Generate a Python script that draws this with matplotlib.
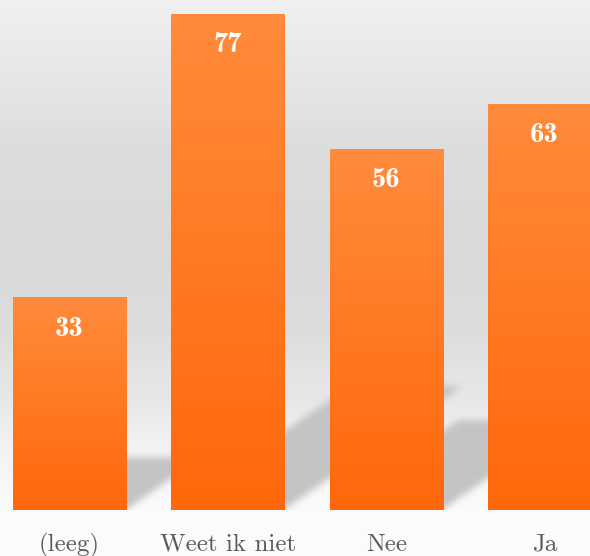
import numpy as np
import matplotlib
matplotlib.use("Agg")
import matplotlib.pyplot as plt
from matplotlib.path import Path

# ── data ──────────────────────────────────────
categories = ["(leeg)", "Weet ik niet", "Nee", "Ja"]
values = [33, 77, 56, 63]

# ── layout ────────────────────────────────────
W, H = 590, 556
fig = plt.figure(figsize=(W / 100, H / 100), dpi=100)
ax = fig.add_axes([0, 0, 1, 1])
ax.axis("off")

x = np.arange(len(categories))
bar_w = 0.714
xlim = (-0.439, 3.287)
ylim = (-7.137, 79.13)

# ── background: soft vertical gradient + floor shadows ──
xs = np.linspace(xlim[0], xlim[1], W)
ys = np.linspace(ylim[1], ylim[0], H)
gx, gy = np.meshgrid(xs, ys)

rows = np.arange(H)
prof = np.interp(rows, [0, 60, 150, 250, 330, 400, 450, 480, 510, 556],
                 [240, 233, 221, 217, 221, 232, 243, 248, 251, 252])
bg = np.tile(prof[:, None], (1, W))

kx, ky = 0.01466, 0.25
mask = np.zeros((H, W))
pts = np.column_stack([gx.ravel(), gy.ravel()])
for xi, v in zip(x, values):
    l, r = xi - bar_w / 2, xi + bar_w / 2
    poly = Path([(l, 0), (r, 0), (r + kx * v, ky * v), (l + kx * v, ky * v), (l, 0)])
    mask = np.maximum(mask, poly.contains_points(pts).reshape(H, W))

# cheap gaussian blur
k = np.exp(-0.5 * (np.arange(-9, 10) / 3.5) ** 2)
k /= k.sum()
mask = np.apply_along_axis(lambda m: np.convolve(m, k, mode="same"), 0, mask)
mask = np.apply_along_axis(lambda m: np.convolve(m, k, mode="same"), 1, mask)
mask[gy < 0] = 0
bg = bg - (bg - 196) * mask

img = np.dstack([bg, bg, bg]) / 255.0
ax.imshow(img, extent=[xlim[0], xlim[1], ylim[0], ylim[1]], aspect="auto",
          zorder=0, interpolation="bilinear")

# ── bars with orange gradient ─────────────────
bars = ax.bar(x, values, width=bar_w, color="#ff7a22", linewidth=0, zorder=2)
top_c = np.array([255, 139, 60]) / 255
bot_c = np.array([255, 103, 10]) / 255
t = np.linspace(0, 1, 256)[:, None]
grad = (top_c * (1 - t) + bot_c * t)[:, None, :]
for b, v in zip(bars, values):
    im = ax.imshow(grad, extent=[b.get_x(), b.get_x() + b.get_width(), 0, v],
                   aspect="auto", zorder=3, interpolation="bilinear")
    im.set_clip_path(b)

# value labels + category labels
for xi, v in zip(x, values):
    ax.text(xi, v - 5.95, str(v), ha="center", va="baseline", color="white",
            fontsize=20.5, fontfamily="cmb10", zorder=4)
for xi, c in zip(x, categories):
    ax.text(xi, -6.36, c, ha="center", va="baseline", color="#5a5a5a",
            fontsize=18, fontfamily="cmr10", zorder=4)

ax.set_xlim(*xlim)
ax.set_ylim(*ylim)

fig.savefig("out.png", dpi=100)
